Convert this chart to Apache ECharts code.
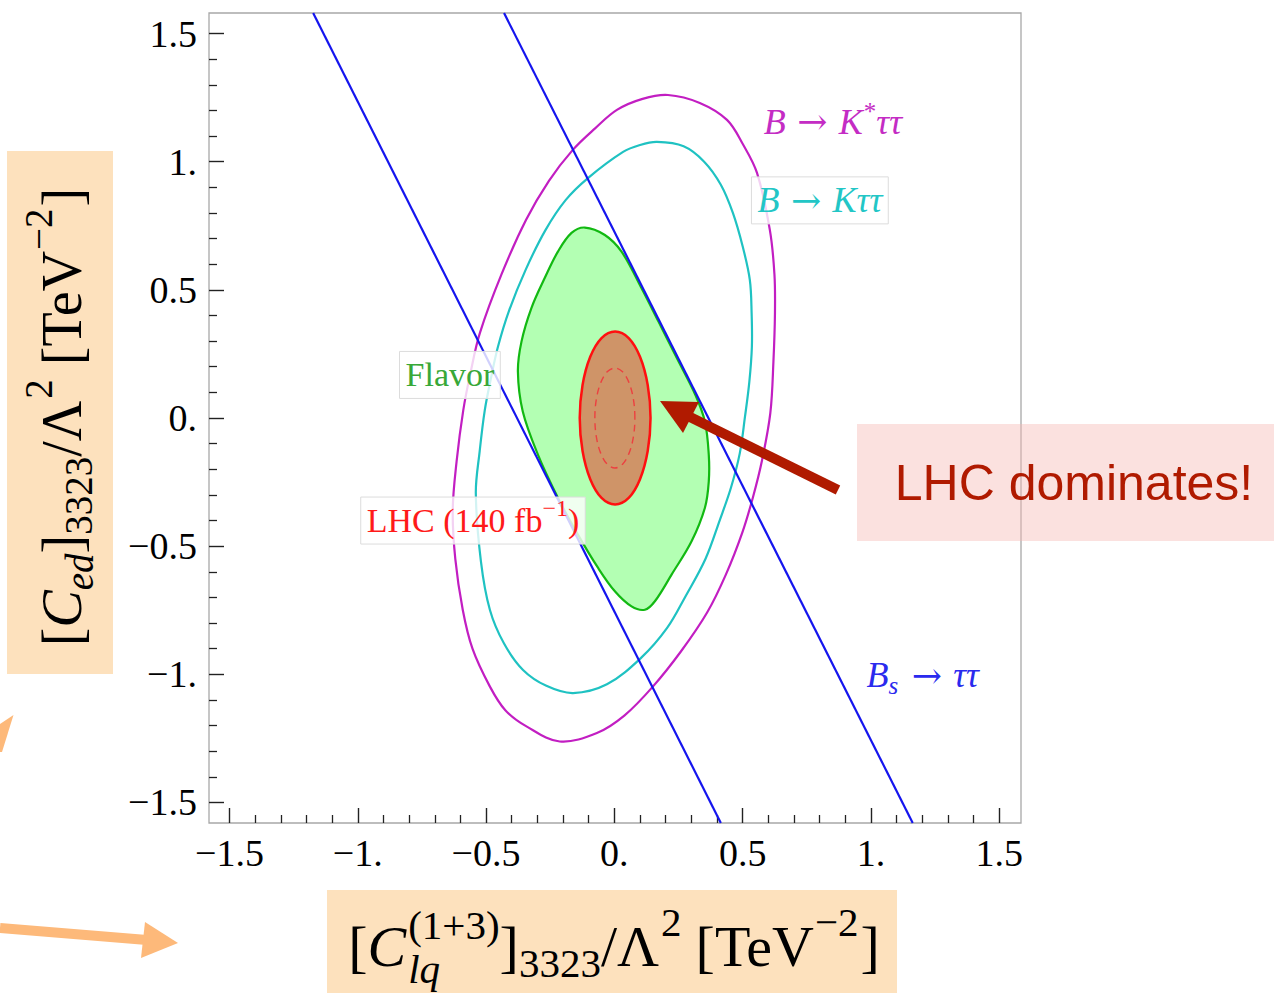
<!DOCTYPE html>
<html><head><meta charset="utf-8">
<script src="https://cdn.jsdelivr.net/npm/echarts@6/dist/echarts.min.js"></script>
<style>html,body{margin:0;padding:0;background:#fff}#c{width:1274px;height:993px}</style>
</head><body><div id="c"></div>
<script>
// ---------- data ----------
const tickValues = [-1.5, -1, -0.5, 0, 0.5, 1, 1.5];
const tickLabels = ['−1.5', '−1.', '−0.5', '0.', '0.5', '1.', '1.5'];
const minorTickValues = [-1.4,-1.3,-1.2,-1.1,-0.9,-0.8,-0.7,-0.6,-0.4,-0.3,-0.2,-0.1,0.1,0.2,0.3,0.4,0.6,0.7,0.8,0.9,1.1,1.2,1.3,1.4];
const axisRange = [-1.58, 1.585];
const yAxisRange = [-1.58, 1.58];

// B -> K* tau tau contour
const contourKstar = [
  [0.209,1.260],[0.333,1.229],[0.439,1.163],[0.500,1.070],[0.556,0.956],[0.606,0.734],
  [0.624,0.560],[0.626,0.410],[0.620,0.220],[0.608,0.020],[0.575,-0.168],[0.540,-0.310],
  [0.499,-0.446],[0.435,-0.610],[0.361,-0.760],[0.260,-0.910],[0.150,-1.048],[0.040,-1.160],
  [-0.068,-1.229],[-0.213,-1.262],[-0.341,-1.204],[-0.425,-1.140],[-0.485,-1.048],[-0.553,-0.900],
  [-0.591,-0.748],[-0.620,-0.550],[-0.630,-0.358],[-0.615,-0.170],[-0.589,0.030],[-0.560,0.180],
  [-0.524,0.332],[-0.440,0.560],[-0.344,0.773],[-0.255,0.925],[-0.162,1.046],[-0.075,1.130],
  [0.010,1.202],[0.110,1.245]
];
// B -> K tau tau contour
const contourK = [
  [0.166,1.077],[0.270,1.060],[0.350,1.000],[0.415,0.910],[0.462,0.800],[0.500,0.670],
  [0.528,0.539],[0.535,0.410],[0.536,0.277],[0.526,0.140],[0.509,0.004],[0.489,-0.137],
  [0.455,-0.270],[0.411,-0.398],[0.355,-0.550],[0.276,-0.698],[0.205,-0.820],[0.105,-0.935],
  [-0.029,-1.039],[-0.161,-1.073],[-0.265,-1.045],[-0.356,-0.983],[-0.430,-0.880],[-0.485,-0.749],
  [-0.520,-0.560],[-0.540,-0.293],[-0.525,-0.130],[-0.505,0.031],[-0.480,0.160],[-0.454,0.277],
  [-0.410,0.420],[-0.345,0.580],[-0.268,0.734],[-0.190,0.850],[-0.103,0.936],[0.034,1.038],
  [0.100,1.065]
];
// Flavor (combined) region
const regionFlavor = [
  [-0.115,0.743],[-0.037,0.714],[0.028,0.649],[0.105,0.508],[0.172,0.376],[0.243,0.235],
  [0.316,0.090],[0.353,-0.014],[0.368,-0.143],[0.368,-0.248],[0.353,-0.350],[0.301,-0.481],
  [0.223,-0.611],[0.158,-0.715],[0.119,-0.748],[0.067,-0.735],[0.002,-0.676],[-0.064,-0.584],
  [-0.142,-0.455],[-0.220,-0.311],[-0.298,-0.143],[-0.357,0.025],[-0.376,0.181],[-0.362,0.298],
  [-0.323,0.430],[-0.271,0.547],[-0.220,0.649],[-0.167,0.722]
];
// LHC (140 fb^-1) region, solid
const regionLHC = [
  [0.141,0.000],[0.130,0.129],[0.100,0.239],[0.056,0.312],[0.003,0.3375],[-0.050,0.312],
  [-0.094,0.239],[-0.124,0.129],[-0.135,0.000],[-0.124,-0.129],[-0.094,-0.239],[-0.050,-0.312],
  [0.003,-0.3375],[0.056,-0.312],[0.100,-0.239],[0.130,-0.129]
];
// LHC inner dashed contour
const contourLHCdashed = [
  [0.080,0.000],[0.074,0.075],[0.057,0.138],[0.032,0.180],[0.002,0.195],[-0.028,0.180],
  [-0.053,0.138],[-0.070,0.075],[-0.076,0.000],[-0.070,-0.075],[-0.053,-0.138],[-0.028,-0.180],
  [0.002,-0.195],[0.032,-0.180],[0.057,-0.138],[0.074,-0.075]
];
// Bs -> tau tau bounds (straight lines)
const boundBs1 = [[-1.174,1.58],[0.415,-1.58]];
const boundBs2 = [[-0.430,1.58],[1.163,-1.58]];

// label anchors (data coordinates)
const anchorKstar = [0.852, 1.155];
const anchorK = [0.801, 0.849];
const anchorFlavor = [-0.641, 0.168];
const anchorLHC = [-0.551, -0.400];
const anchorBs = [1.202, -1.003];

// ---------- chart ----------
const SERIF = "'Liberation Serif','DejaVu Serif',serif";
const ARROWF = "'DejaVu Serif','DejaVu Sans',serif";
const SANS = "'Liberation Sans','DejaVu Sans',sans-serif";
const chart = echarts.init(document.getElementById('c'), null, {renderer: 'svg'});

function labelFor(v) {
  for (let i = 0; i < tickValues.length; i++) if (Math.abs(v - tickValues[i]) < 1e-9) return tickLabels[i];
  return '';
}
function polySeries(name, pts, style, z) {
  return {
    type: 'custom', name, z, silent: true, clip: true, animation: false,
    data: pts,
    renderItem: function (params, api) {
      if (params.dataIndex !== 0) return null;
      const points = pts.map(p => api.coord(p));
      return {type: 'polygon', shape: {points, smooth: 0.35}, style};
    }
  };
}
function lineSeries(name, pts, color, z) {
  return {type: 'line', name, z, data: pts, showSymbol: false, silent: true, animation: false,
    lineStyle: {color, width: 2.2}};
}
function majorAxis(range, isX) {
  return {
    type: 'value', min: range[0], max: range[1], position: isX ? 'bottom' : 'left',
    axisLine: {show: false, onZero: false},
    axisTick: {show: true, inside: true, length: 15, customValues: tickValues, lineStyle: {color: '#222', width: 1.4}},
    axisLabel: {show: true, customValues: tickValues, formatter: labelFor, margin: isX ? 11 : 12,
      color: '#000', fontFamily: SERIF, fontSize: 38},
    splitLine: {show: false}
  };
}
function minorAxis(range, isX) {
  return {
    type: 'value', min: range[0], max: range[1], position: isX ? 'bottom' : 'left',
    axisLine: {show: false, onZero: false},
    axisTick: {show: true, inside: true, length: 8, customValues: minorTickValues, lineStyle: {color: '#222', width: 1.3}},
    axisLabel: {show: false}, splitLine: {show: false}
  };
}

const option = {
  animation: false,
  backgroundColor: '#ffffff',
  grid: {left: 209, top: 13, width: 812, height: 810, show: true, borderColor: '#a8a8a8', borderWidth: 1.3, backgroundColor: 'transparent'},
  xAxis: [majorAxis(axisRange, true), minorAxis(axisRange, true)],
  yAxis: [majorAxis(yAxisRange, false), minorAxis(yAxisRange, false)],
  series: [
    polySeries('B→K*ττ', contourKstar, {fill: 'none', stroke: '#c21ec2', lineWidth: 2.2}, 2),
    polySeries('B→Kττ', contourK, {fill: 'none', stroke: '#1fc2c2', lineWidth: 2.2}, 2),
    polySeries('Flavor', regionFlavor, {fill: '#b3ffb3', stroke: '#12b912', lineWidth: 2.2}, 3),
    lineSeries('Bs→ττ (1)', boundBs1, '#1515ee', 4),
    lineSeries('Bs→ττ (2)', boundBs2, '#1515ee', 4),
    polySeries('LHC', regionLHC, {fill: '#cf9468', stroke: '#ff1010', lineWidth: 2.5}, 5),
    polySeries('LHC dashed', contourLHCdashed, {fill: 'none', stroke: '#ec4040', lineWidth: 1.4, lineDash: [7, 5]}, 6)
  ]
};
chart.setOption(option);

// ---------- text layout helpers ----------
const mctx = document.createElement('canvas').getContext('2d');
function tw(text, size, st, fam) { mctx.font = st + ' ' + size + 'px ' + fam; return mctx.measureText(text).width; }
function txt(text, x, y, size, st, fam, color, z) {
  return {type: 'text', x, y, z, style: {text, fontSize: size, fontFamily: fam, fontStyle: st, fill: color,
    align: 'left', verticalAlign: 'middle', textAlign: 'left', textVerticalAlign: 'middle'}};
}
function layoutMath(pieces, F, fam, color, z) {
  const S = Math.round(F * 0.7);
  const els = []; let x = 0;
  for (const p of pieces) {
    if (p.t !== undefined) {
      const st = p.it ? 'italic' : 'normal';
      const f = p.fam || fam;
      const sz = F * (p.scale || 1);
      els.push(txt(p.t, x, p.dy ? p.dy * F : 0, sz, st, f, color, z));
      x += tw(p.t, sz, st, f) + (p.after || 0);
    } else {
      let w = 0;
      if (p.sup !== undefined) {
        const st = p.supIt ? 'italic' : 'normal';
        els.push(txt(p.sup, x, -(p.supDy || 0.38) * F, S, st, fam, color, z));
        w = Math.max(w, tw(p.sup, S, st, fam));
      }
      if (p.sub !== undefined) {
        const st = p.subIt ? 'italic' : 'normal';
        els.push(txt(p.sub, x + (p.subDx || 0), (p.subDy || 0.3) * F, S, st, fam, color, z));
        w = Math.max(w, tw(p.sub, S, st, fam) + (p.subDx || 0));
      }
      x += w + (p.after || 0);
    }
  }
  els.forEach(e => { e.x -= x / 2; });
  return {els, width: x};
}

function boxedLabel(anchor, pieces, color, boxed, F) {
  const c = chart.convertToPixel({gridIndex: 0}, anchor);
  const m = layoutMath(pieces, F, SERIF, color, 121);
  const children = [];
  if (boxed) {
    const w = m.width + 12, h = 47;
    children.push({type: 'rect', z: 120, shape: {x: -w / 2, y: -h / 2, width: w, height: h},
      style: {fill: 'rgba(255,255,255,0.8)', stroke: '#dcdcdc', lineWidth: 1}});
  }
  return {type: 'group', x: c[0], y: c[1], z: 120, children: children.concat(m.els)};
}

const xTitle = layoutMath([
  {t: '['}, {t: 'C', it: 1, after: 2},
  {sup: '(1+3)', sub: 'lq', subIt: 1, supDy: 0.36, subDy: 0.4},
  {t: ']'}, {sub: '3323'}, {t: '/Λ', after: 2}, {sup: '2', supDy: 0.42, after: 14},
  {t: '[TeV', after: 1}, {sup: '−2', supDy: 0.42, after: 2}, {t: ']'}
], 58, SERIF, '#000', 5);
const yTitle = layoutMath([
  {t: '['}, {t: 'C', it: 1}, {sub: 'ed', subIt: 1, subDy: 0.32}, {t: ']'},
  {sub: '3323'}, {t: '/Λ', after: 2}, {sup: '2', supDy: 0.42, after: 14},
  {t: '[TeV', after: 1}, {sup: '−2', supDy: 0.42, after: 2}, {t: ']'}
], 56, SERIF, '#000', 5);

const ARROW = {t: ' → ', fam: ARROWF, scale: 1.0};
const ORANGE = '#fdb97a';
const DARKRED = '#b01a00';
const elements = [
  // axis title boxes
  {type: 'rect', shape: {x: 7, y: 151, width: 106, height: 523}, style: {fill: '#fde1bd'}, z: 1},
  {type: 'group', x: 62, y: 417, rotation: Math.PI / 2, z: 5, children: yTitle.els},
  {type: 'rect', shape: {x: 327, y: 890, width: 570, height: 103}, style: {fill: '#fde1bd'}, z: 1},
  {type: 'group', x: 614, y: 946, z: 5, children: xTitle.els},
  // orange arrows (partially off the slide)
  {type: 'polygon', shape: {points: [[13.5, 715], [0, 724], [0, 752], [2, 752]]}, style: {fill: ORANGE}, z: 2},
  {type: 'line', shape: {x1: 0, y1: 928, x2: 147, y2: 940}, style: {stroke: ORANGE, lineWidth: 10}, z: 2},
  {type: 'polygon', shape: {points: [[178, 943], [145, 922], [141, 958]]}, style: {fill: ORANGE}, z: 2},
  // data labels
  boxedLabel(anchorKstar, [{t: 'B', it: 1}, ARROW, {t: 'K', it: 1, after: 1}, {sup: '*', supDy: 0.3}, {t: 'ττ', it: 1}], '#c42cc4', false, 36),
  boxedLabel(anchorK, [{t: 'B', it: 1}, ARROW, {t: 'Kττ', it: 1}], '#22c6c6', true, 36),
  boxedLabel(anchorFlavor, [{t: 'Flavor'}], '#38a838', true, 34),
  boxedLabel(anchorLHC, [{t: 'LHC (140 fb'}, {sup: '−1', supDy: 0.36}, {t: ')'}], '#ff1a1a', true, 34),
  boxedLabel(anchorBs, [{t: 'B', it: 1}, {sub: 's', subIt: 1, subDy: 0.28, after: 2}, ARROW, {t: 'ττ', it: 1}], '#2a2aee', false, 36),
  // "LHC dominates!" callout
  {type: 'line', shape: {x1: 838, y1: 490, x2: 688, y2: 416}, style: {stroke: DARKRED, lineWidth: 10}, z: 130},
  {type: 'polygon', shape: {points: [[660, 401], [699, 402], [683, 433]]}, style: {fill: DARKRED}, z: 130},
  {type: 'rect', shape: {x: 857, y: 424, width: 417, height: 117}, style: {fill: 'rgba(245,183,178,0.42)'}, z: 130},
  {type: 'text', x: 1074, y: 483, z: 131, style: {text: 'LHC dominates!', fontSize: 50, fontFamily: SANS, fill: DARKRED,
    align: 'center', verticalAlign: 'middle', textAlign: 'center', textVerticalAlign: 'middle'}}
];
chart.setOption({graphic: {elements}});
</script>
</body></html>
